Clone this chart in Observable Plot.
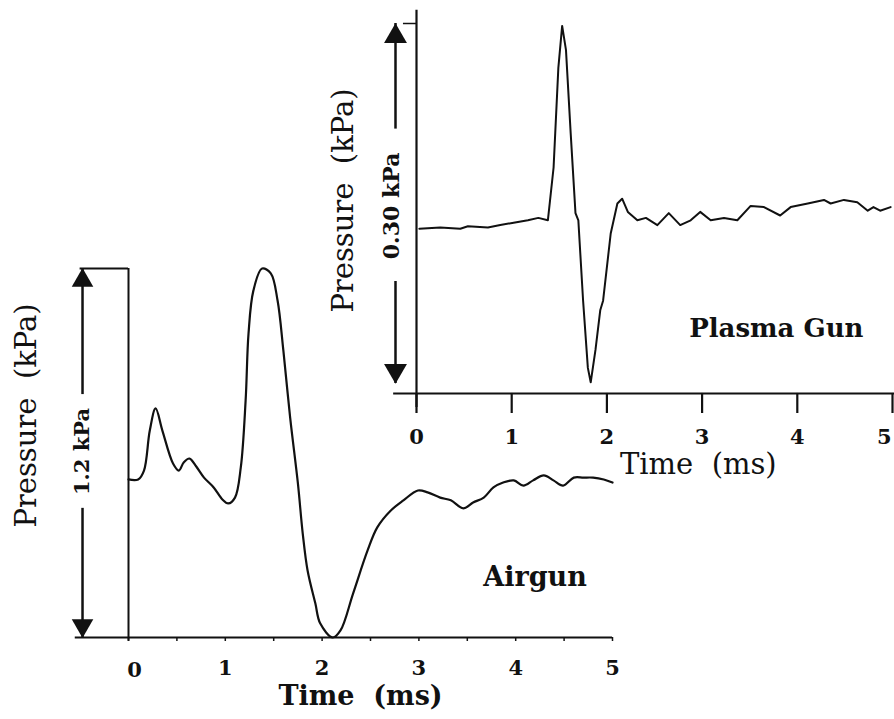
<!DOCTYPE html>
<html>
<head>
<meta charset="utf-8">
<script src="https://cdn.jsdelivr.net/npm/d3@7"></script>
<script src="https://cdn.jsdelivr.net/npm/@observablehq/plot@0.6"></script>
<style>
  html, body { margin: 0; padding: 0; background: white; }
  #wrap { position: relative; width: 894px; height: 719px; overflow: hidden; }
  #wrap svg { position: absolute; left: 0; top: 0; }
</style>
</head>
<body>
<div id="wrap"></div>
<script>
// ---------- Data ----------
const tickValues = [0, 1, 2, 3, 4, 5];
const tickLabels = ["0", "1", "2", "3", "4", "5"];
const airgunMinorTicks = [0, 0.5, 1, 1.5, 2, 2.5, 3, 3.5, 4, 4.5, 5];

// Airgun signature: time (ms), pressure (kPa, above trace minimum)
const airgunTime = [0, 0.10, 0.16, 0.22, 0.28, 0.35, 0.46, 0.52, 0.57, 0.63, 0.70, 0.78, 0.88, 0.97, 1.03, 1.10, 1.16, 1.21, 1.24, 1.29, 1.38, 1.47, 1.54, 1.60, 1.67, 1.75, 1.80, 1.85, 1.93, 1.98, 2.11, 2.19, 2.32, 2.47, 2.57, 2.71, 2.84, 2.99, 3.09, 3.22, 3.33, 3.46, 3.56, 3.67, 3.77, 3.87, 3.98, 4.08, 4.18, 4.29, 4.39, 4.49, 4.60, 4.70, 4.80, 4.91, 5.00];
const airgunPressure = [0.514, 0.514, 0.543, 0.673, 0.745, 0.673, 0.566, 0.543, 0.569, 0.582, 0.556, 0.520, 0.488, 0.449, 0.436, 0.455, 0.553, 0.771, 0.989, 1.128, 1.200, 1.184, 1.096, 0.933, 0.715, 0.501, 0.338, 0.218, 0.111, 0.046, 0.000, 0.023, 0.143, 0.283, 0.358, 0.413, 0.446, 0.478, 0.472, 0.455, 0.446, 0.420, 0.439, 0.455, 0.488, 0.504, 0.511, 0.494, 0.511, 0.527, 0.511, 0.494, 0.520, 0.520, 0.520, 0.514, 0.504];

// Plasma gun signature: time (ms), pressure (kPa, above trace minimum)
const plasmaTime = [0.03, 0.25, 0.46, 0.54, 0.75, 0.88, 1.02, 1.17, 1.28, 1.38, 1.44, 1.49, 1.53, 1.57, 1.62, 1.67, 1.70, 1.75, 1.80, 1.83, 1.88, 1.93, 1.96, 2.04, 2.11, 2.16, 2.22, 2.32, 2.41, 2.53, 2.65, 2.77, 2.88, 2.98, 3.09, 3.23, 3.37, 3.51, 3.65, 3.82, 3.93, 4.11, 4.28, 4.35, 4.49, 4.63, 4.74, 4.80, 4.87, 4.98];
const plasmaPressure = [0.129, 0.130, 0.129, 0.131, 0.130, 0.132, 0.134, 0.136, 0.138, 0.136, 0.180, 0.263, 0.298, 0.278, 0.208, 0.142, 0.136, 0.069, 0.013, 0.001, 0.028, 0.061, 0.069, 0.125, 0.150, 0.154, 0.143, 0.136, 0.138, 0.132, 0.142, 0.132, 0.136, 0.143, 0.136, 0.138, 0.136, 0.148, 0.147, 0.140, 0.147, 0.150, 0.153, 0.150, 0.153, 0.151, 0.144, 0.147, 0.144, 0.147];

const airgun = airgunTime.map((t, i) => ({t, p: airgunPressure[i]}));
const plasma = plasmaTime.map((t, i) => ({t, p: plasmaPressure[i]}));

const serif = "DejaVu Serif";
const ink = "#111";

// ---------- Airgun (main) panel ----------
const airArrowX = -0.475;
const mainPlot = Plot.plot({
  width: 894, height: 719,
  marginLeft: 128, marginRight: 282, marginTop: 268, marginBottom: 82,
  style: {background: "transparent", fontFamily: serif},
  x: {domain: [0, 5], axis: null},
  y: {domain: [0, 1.2], axis: null},
  marks: [
    // axes
    Plot.ruleY([0], {x1: () => -0.55, x2: () => 5, stroke: ink, strokeWidth: 2}),
    Plot.ruleX([0], {y1: () => -0.012, y2: () => 1.2, stroke: ink, strokeWidth: 2}),
    Plot.ruleY([1.2], {x1: () => -0.5, x2: () => 0, stroke: ink, strokeWidth: 2}),
    Plot.ruleX(airgunMinorTicks, {y1: () => 0, y2: () => -0.013, stroke: ink, strokeWidth: 1.5}),
    Plot.text(tickValues.slice(1), {x: d => d, y: () => -0.1, text: (d, i) => tickLabels[i + 1], fontSize: 21, fontWeight: "bold", fontFamily: serif, fill: ink}),
    Plot.text([0], {x: d => d, y: () => -0.105, text: () => tickLabels[0], dx: 6, fontSize: 21, fontWeight: "bold", fontFamily: serif, fill: ink}),
    // scale arrow 1.2 kPa
    Plot.ruleX([airArrowX], {y1: () => 0.79, y2: () => 1.2, stroke: ink, strokeWidth: 2.5}),
    Plot.ruleX([airArrowX], {y1: () => 0, y2: () => 0.42, stroke: ink, strokeWidth: 2.5}),
    Plot.dot([1.2], {x: () => airArrowX, y: d => d, symbol: "triangle", r: 8, fill: ink, stroke: "none", dy: 12}),
    Plot.dot([0], {x: () => airArrowX, y: d => d, symbol: "triangle", r: 8, fill: ink, stroke: "none", rotate: 180, dy: -12}),
    Plot.text(["1.2 kPa"], {x: () => airArrowX, y: () => 0.605, text: d => d, rotate: -90, fontSize: 21, fontWeight: "bold", fontFamily: serif, fill: ink}),
    // titles
    Plot.text(["Pressure  (kPa)"], {x: () => -1.054, y: () => 0.722, text: d => d, rotate: -90, fontSize: 29, fontFamily: serif, fill: ink}),
    Plot.text(["Time  (ms)"], {x: () => 2.397, y: () => -0.19, text: d => d, fontSize: 27, fontWeight: "bold", fontFamily: serif, fill: ink}),
    Plot.text(["Airgun"], {x: () => 4.2, y: () => 0.195, text: d => d, fontSize: 27, fontWeight: "bold", fontFamily: serif, fill: ink}),
    // signature
    Plot.line(airgun, {x: "t", y: "p", curve: "catmull-rom", stroke: ink, strokeWidth: 2.2})
  ]
});

// ---------- Plasma gun (inset) panel ----------
const plArrowX = -0.2206;
const insetPlot = Plot.plot({
  width: 894, height: 719,
  marginLeft: 416, marginRight: 2, marginTop: 23, marginBottom: 336,
  style: {background: "transparent", fontFamily: serif},
  x: {domain: [0, 5], axis: null},
  y: {domain: [0, 0.30], axis: null},
  marks: [
    Plot.ruleY([-0.0083], {x1: () => -0.24, x2: () => 5.05, stroke: ink, strokeWidth: 2}),
    Plot.ruleX([0], {y1: () => -0.02, y2: () => 0.311, stroke: ink, strokeWidth: 2.2}),
    Plot.ruleY([0.30], {x1: () => -0.137, x2: () => 0, stroke: ink, strokeWidth: 1.5}),
    Plot.ruleX(tickValues, {y1: () => -0.0083, y2: () => -0.025, stroke: ink, strokeWidth: 2.2}),
    Plot.text(tickValues.slice(0, 5), {x: d => d, y: () => -0.045, text: (d, i) => tickLabels[i], fontSize: 21, fontWeight: "bold", fontFamily: serif, fill: ink}),
    Plot.text([5], {x: d => d, y: () => -0.045, text: () => tickLabels[5], textAnchor: "end", dx: -1, fontSize: 21, fontWeight: "bold", fontFamily: serif, fill: ink}),
    // scale arrow 0.30 kPa
    Plot.ruleX([plArrowX], {y1: () => 0.212, y2: () => 0.30, stroke: ink, strokeWidth: 2.5}),
    Plot.ruleX([plArrowX], {y1: () => 0, y2: () => 0.085, stroke: ink, strokeWidth: 2.5}),
    Plot.dot([0.30], {x: () => plArrowX, y: d => d, symbol: "triangle", r: 8.5, fill: ink, stroke: "none", dy: 13}),
    Plot.dot([0], {x: () => plArrowX, y: d => d, symbol: "triangle", r: 8.5, fill: ink, stroke: "none", rotate: 180, dy: -13}),
    Plot.text(["0.30 kPa"], {x: () => -0.263, y: () => 0.148, text: d => d, rotate: -90, fontSize: 22, fontWeight: "bold", fontFamily: serif, fill: ink}),
    Plot.text(["Pressure  (kPa)"], {x: () => -0.767, y: () => 0.1525, text: d => d, rotate: -90, fontSize: 29, fontFamily: serif, fill: ink}),
    Plot.text(["Time  (ms)"], {x: () => 2.96, y: () => -0.068, text: d => d, fontSize: 29, fontFamily: serif, fill: ink}),
    Plot.text(["Plasma Gun"], {x: () => 3.78, y: () => 0.0458, text: d => d, fontSize: 26, fontWeight: "bold", fontFamily: serif, fill: ink}),
    Plot.line(plasma, {x: "t", y: "p", curve: "linear", stroke: ink, strokeWidth: 2})
  ]
});

const wrap = document.getElementById("wrap");
wrap.appendChild(mainPlot);
wrap.appendChild(insetPlot);
</script>
</body>
</html>
